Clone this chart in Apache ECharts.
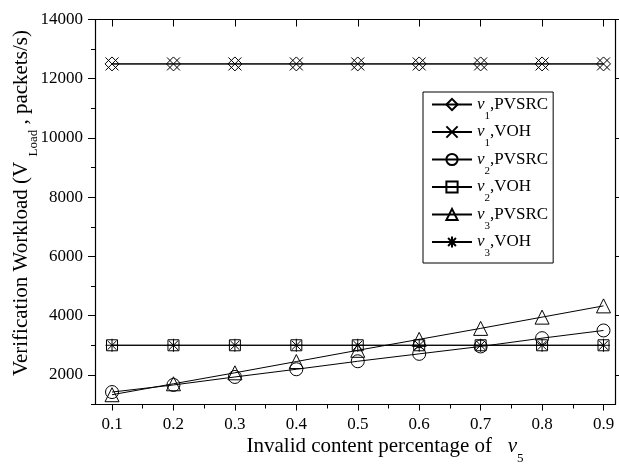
<!DOCTYPE html>
<html>
<head>
<meta charset="utf-8">
<script src="https://cdn.jsdelivr.net/npm/echarts@6/dist/echarts.min.js"></script>
<style>html,body{margin:0;padding:0;background:#fff}#c{width:619px;height:469px}</style>
</head>
<body>
<div id="c"></div>
<script>
// ---- data ----
var xValues = [0.1, 0.2, 0.3, 0.4, 0.5, 0.6, 0.7, 0.8, 0.9];
var v1Pvsrc = [12500, 12500, 12500, 12500, 12500, 12500, 12500, 12500, 12500];
var v1Voh   = [12500, 12500, 12500, 12500, 12500, 12500, 12500, 12500, 12500];
var v2Pvsrc = [1420, 1660, 1930, 2190, 2460, 2710, 2960, 3240, 3500];
var v2Voh   = [3000, 3000, 3000, 3000, 3000, 3000, 3000, 3000, 3000];
var v3Pvsrc = [1330, 1700, 2070, 2450, 2830, 3200, 3570, 3950, 4330];
var v3Voh   = [3000, 3000, 3000, 3000, 3000, 3000, 3000, 3000, 3000];
var xMajorTicks = [0.1, 0.2, 0.3, 0.4, 0.5, 0.6, 0.7, 0.8, 0.9];
var xMinorTicks = [0.15, 0.25, 0.35, 0.45, 0.55, 0.65, 0.75, 0.85];
var yMajorTicks = [2000, 4000, 6000, 8000, 10000, 12000, 14000];
var yMinorTicks = [1000, 3000, 5000, 7000, 9000, 11000, 13000];
var seriesNames = ['v1,PVSRC', 'v1,VOH', 'v2,PVSRC', 'v2,VOH', 'v3,PVSRC', 'v3,VOH'];

var FONT = 'Liberation Serif';
var symX = 'path://M0,0L10,10M10,0L0,10';
var symAst = 'path://M5,0L5,10M0,5L10,5M1.5,1.5L8.5,8.5M8.5,1.5L1.5,8.5';
var symbols = ['diamond', symX, 'circle', 'rect', 'triangle', symAst];
var sizes = [14, 13, 13, 11, 14, 13];
var dataSets = [v1Pvsrc, v1Voh, v2Pvsrc, v2Voh, v3Pvsrc, v3Voh];

function pairs(ys) { return xValues.map(function (x, i) { return [x, ys[i]]; }); }

var series = seriesNames.map(function (n, k) {
  return {
    name: n, type: 'line', data: pairs(dataSets[k]),
    symbol: symbols[k], symbolSize: sizes[k], showAllSymbol: true, clip: false,
    lineStyle: { color: '#000', width: 1 },
    itemStyle: { color: 'rgba(255,255,255,0)', borderColor: '#000', borderWidth: 1 },
    emphasis: { disabled: true }, animation: false
  };
});

var XMIN = 0.0723, XMAX = 0.9187;
var axisLine = { show: true, lineStyle: { color: '#000', width: 1.2 } };
var option = {
  animation: false,
  grid: { left: 95, right: 4, top: 19.5, bottom: 64.5 },
  xAxis: [
    { type: 'value', min: XMIN, max: XMAX, position: 'bottom', axisLine: axisLine,
      axisTick: { show: true, customValues: xMajorTicks, length: 6, lineStyle: { color: '#000' } },
      axisLabel: { customValues: xMajorTicks, margin: 12, color: '#000', fontFamily: FONT, fontSize: 17,
        formatter: function (v) { return v.toFixed(1); } },
      splitLine: { show: false } },
    { type: 'value', min: XMIN, max: XMAX, position: 'bottom', axisLine: { show: false },
      axisTick: { show: true, customValues: xMinorTicks, length: 4, lineStyle: { color: '#000' } },
      axisLabel: { show: false }, splitLine: { show: false } },
    { type: 'value', min: XMIN, max: XMAX, position: 'top', axisLine: axisLine,
      axisTick: { show: true, inside: true, customValues: xMajorTicks, length: 7, lineStyle: { color: '#000' } },
      axisLabel: { show: false }, splitLine: { show: false } }
  ],
  yAxis: [
    { type: 'value', min: 1000, max: 14000, position: 'left', axisLine: axisLine,
      axisTick: { show: true, customValues: yMajorTicks, length: 7, lineStyle: { color: '#000' } },
      axisLabel: { customValues: yMajorTicks, margin: 12, color: '#000', fontFamily: FONT, fontSize: 17,
        formatter: function (v) { return String(v); } },
      splitLine: { show: false } },
    { type: 'value', min: 1000, max: 14000, position: 'left', axisLine: { show: false },
      axisTick: { show: true, customValues: yMinorTicks, length: 4, lineStyle: { color: '#000' } },
      axisLabel: { show: false }, splitLine: { show: false } },
    { type: 'value', min: 1000, max: 14000, position: 'right', axisLine: axisLine,
      axisTick: { show: true, customValues: yMajorTicks, length: 5, lineStyle: { color: '#000' } },
      axisLabel: { show: false }, splitLine: { show: false } }
  ],
  legend: {
    orient: 'vertical', left: 423, top: 92, data: seriesNames,
    backgroundColor: '#fff', borderColor: '#000', borderWidth: 1, borderRadius: 0,
    padding: [4, 5, 4, 8], itemWidth: 40, itemHeight: 14, itemGap: 2,
    selectedMode: false,
    textStyle: { fontFamily: FONT, fontSize: 17, color: '#000',
      rich: {
        v: { fontFamily: FONT, fontSize: 17, fontStyle: 'italic', color: '#000', lineHeight: 22 },
        s: { fontFamily: FONT, fontSize: 11, color: '#000', verticalAlign: 'bottom', lineHeight: 22, padding: [0, 0, -6, 0] },
        t: { fontFamily: FONT, fontSize: 17, color: '#000', lineHeight: 22 }
      } },
    formatter: function (n) {
      var p = n.split(',');
      return '{v|v}{s|' + p[0].charAt(1) + '}{t|,' + p[1] + '}';
    }
  },
  graphic: [
    { type: 'text', x: 21, y: 203, rotation: Math.PI / 2,
      style: { text: '{m|Verification Workload (V }{s|Load}{m| , packets/s)}',
        textAlign: 'center', textVerticalAlign: 'middle', fill: '#000',
        rich: {
          m: { fontFamily: FONT, fontSize: 21, color: '#000', lineHeight: 26 },
          s: { fontFamily: FONT, fontSize: 13, color: '#000', verticalAlign: 'bottom', lineHeight: 26, padding: [0, 0, -6, 0] }
        } } },
    { type: 'text', x: 385, y: 446,
      style: { text: '{m|Invalid content percentage of   }{v|v}{s|5}',
        textAlign: 'center', textVerticalAlign: 'middle', fill: '#000',
        rich: {
          m: { fontFamily: FONT, fontSize: 21, color: '#000', lineHeight: 26 },
          v: { fontFamily: FONT, fontSize: 21, fontStyle: 'italic', color: '#000', lineHeight: 26 },
          s: { fontFamily: FONT, fontSize: 13, color: '#000', verticalAlign: 'bottom', lineHeight: 26, padding: [0, 0, -6, 0] }
        } } }
  ],
  series: series
};
var chart = echarts.init(document.getElementById('c'), null, { renderer: 'canvas' });
chart.setOption(option);
</script>
</body>
</html>
